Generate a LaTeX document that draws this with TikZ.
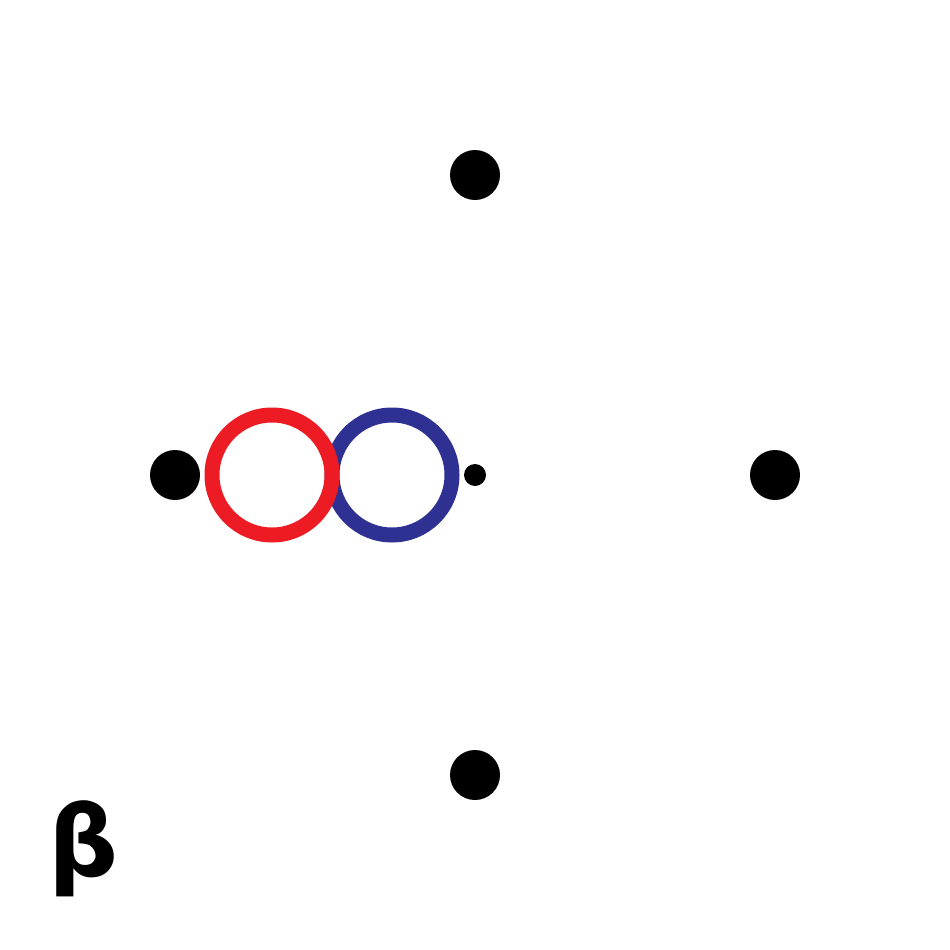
\documentclass[tikz,border=0pt]{standalone}
\usepackage{fontspec}
\newfontfamily\betafont{DejaVu Sans}
\definecolor{ringred}{RGB}{237,28,36}
\definecolor{ringblue}{RGB}{46,49,146}
\begin{document}
\begin{tikzpicture}[x=1pt,y=-1pt,
  bigdot/.style={circle,fill=black,inner sep=0pt,minimum size=50pt},
  smalldot/.style={circle,fill=black,inner sep=0pt,minimum size=22pt},
  ring/.style={circle,line width=15pt,inner sep=0pt,minimum size=120pt}]
\useasboundingbox[fill=white] (0,0) rectangle (950,950);
\node[bigdot] (top) at (475,175) {};
\node[bigdot] (left) at (175,475) {};
\node[bigdot] (right) at (775,475) {};
\node[bigdot] (bottom) at (475,775) {};
\node[smalldot] (center) at (475,475) {};
\node[ring,draw=ringblue] (blue) at (392,475) {};
\node[ring,draw=ringred] (red) at (272,475) {};
\node[inner sep=0pt] (beta) at (84,849) {\betafont\bfseries\fontsize{98}{98}\selectfont β};
\end{tikzpicture}
\end{document}
